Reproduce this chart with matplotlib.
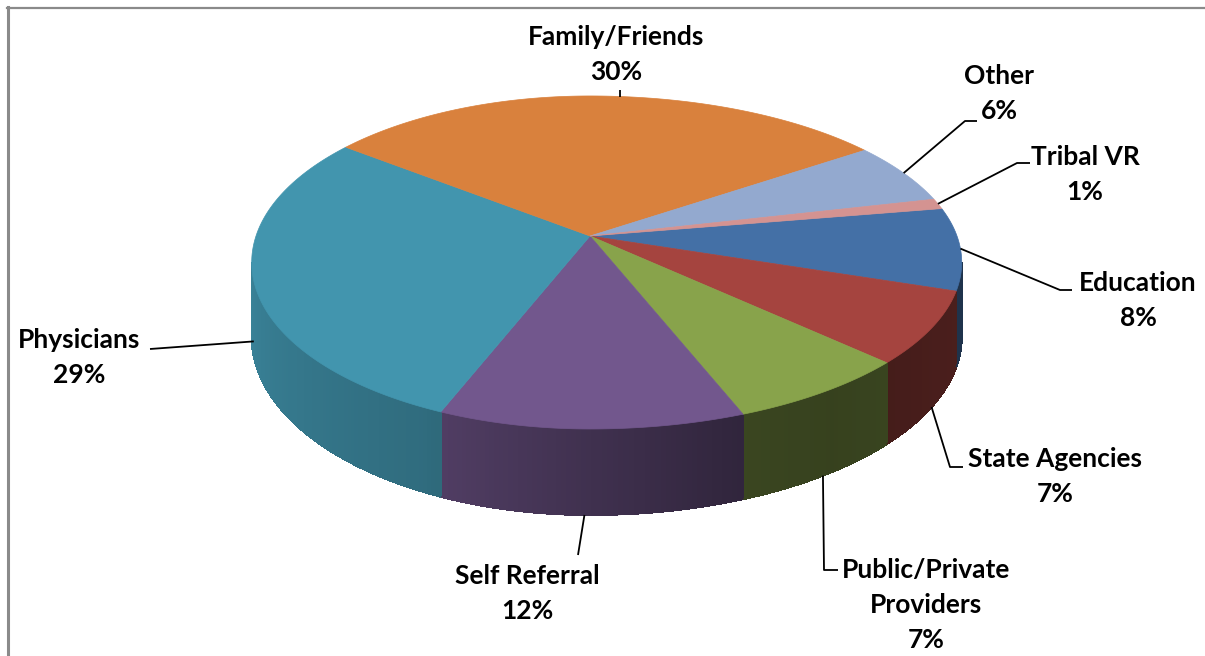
import numpy as np
import matplotlib
matplotlib.use("Agg")
import matplotlib.pyplot as plt
from matplotlib.patches import Polygon
from matplotlib.collections import LineCollection
from matplotlib.colors import to_rgb

# data (percent of referrals), in drawing order, clockwise
sources = ["Education", "State Agencies", "Public/Private Providers", "Self Referral",
           "Physicians", "Family/Friends", "Other", "Tribal VR"]
percents = [8, 7, 7, 12, 29, 30, 6, 1]
top_colors = ["#4470A6", "#A5443F", "#88A34B", "#72578D",
              "#4295AE", "#D9813D", "#93A9CF", "#D49391"]
label_lines = [["Education"], ["State Agencies"], ["Public/Private", "Providers"],
               ["Self Referral"], ["Physicians"], ["Family/Friends"], ["Other"], ["Tribal VR"]]
title = "Referral Sources"

# 3d pie geometry (pixels)
X0, Y0 = 590, 236
AR, AL = 367, 334
B, U, H = 162.3, 0.159, 72.3
START = 10.0


def project(theta, depth=0.0):
    t = np.radians(theta)
    X, Z = np.cos(t), np.sin(t)
    w = 1 + U * Z
    A = np.where(X >= 0, AR, AL)
    return X0 + A * X / w, Y0 - B * Z / w + depth * H / w


def wall_shade(theta):
    return np.interp(theta, [-171, -116, -70, -55, -30, -9],
                     [0.88, 0.73, 0.43, 0.40, 0.44, 0.46])


fig = plt.figure(figsize=(12.05, 6.56), dpi=100)
ax = fig.add_axes([0, 0, 1, 1])
ax.set_xlim(0, 1205)
ax.set_ylim(656, 0)
ax.axis("off")

bounds = START - np.concatenate([[0], np.cumsum(percents)]) / sum(percents) * 360.0

# side walls (front part only)
for i in range(len(percents)):
    a0, a1 = bounds[i + 1], bounds[i]
    lo, hi = max(a0, -171.0), min(a1, -9.0)
    if lo >= hi:
        continue
    base = np.array(to_rgb(top_colors[i]))
    n = max(2, int((hi - lo) / 0.7) + 1)
    ts = np.linspace(lo, hi, n)
    segs, cols = [], []
    for k in range(n - 1):
        ta, tb = ts[k], ts[k + 1]
        xa, ya = project(ta)
        xb, yb = project(tb)
        xa2, ya2 = project(ta, 1)
        xb2, yb2 = project(tb, 1)
        c = np.clip(base * wall_shade((ta + tb) / 2), 0, 1)
        ax.add_patch(Polygon([(xa, ya), (xb, yb), (xb2, yb2), (xa2, ya2)],
                             closed=True, facecolor=c, edgecolor=c, lw=0.8,
                             antialiased=False, zorder=2))
        segs.append([(xa2, ya2), (xb2, yb2)])
        cols.append(c)
    # smooth lower rim
    ax.add_collection(LineCollection(segs, colors=cols, lw=1.0, zorder=2.5))

# top faces
for i in range(len(percents)):
    ts = np.linspace(bounds[i], bounds[i + 1], max(3, int(abs(bounds[i] - bounds[i + 1]) * 2)))
    xs, ys = project(ts)
    pts = [(X0, Y0)] + list(zip(xs, ys))
    ax.add_patch(Polygon(pts, closed=True, facecolor=top_colors[i],
                         edgecolor=top_colors[i], lw=0.5, zorder=3))

# labels and leader lines
font = dict(family=["Lato", "DejaVu Sans"], fontweight="bold", fontsize=19, color="black")
label_pos = [(1138, 283), (1055, 459), (926, 570), (527, 576),
             (79, 340), (616, 37), (999, 76), (1085, 157)]
anchor_depth = [0, 1, 1, 1, 0.8, 0, 0, 0]
anchor_shift = [0, 0, 0, 0, 0, -7, 0, 0]
elbows = [[(1060, 290), (1072, 290)],
          [(950, 467), (963, 467)],
          [(824, 570), (838, 570)],
          [(578, 555)],
          [(150, 349)],
          [(620, 90)],
          [(965, 121), (977, 121)],
          [(1017, 163), (1030, 163)]]
pitch = 35
for i, name in enumerate(sources):
    lx, ly = label_pos[i]
    rows = label_lines[i] + [f"{percents[i]:.0f}%"]
    for r, row in enumerate(rows):
        ax.text(lx, ly + r * pitch, row, ha="center", va="center", zorder=6, **font)
    mid = (bounds[i] + bounds[i + 1]) / 2 + anchor_shift[i]
    axp, ayp = project(mid, anchor_depth[i])
    if i == 5:
        axp = elbows[i][0][0]
    path = [(float(axp), float(ayp))] + elbows[i]
    ax.plot([p[0] for p in path], [p[1] for p in path], color="black", lw=1.3,
            zorder=5, solid_capstyle="butt")

# title (cut off at top, as in the source image) and chart frame
ax.text(620, 0.5, title, ha="center", va="baseline", zorder=1,
        family=["Lato", "DejaVu Sans"], fontweight="bold", fontsize=22, color="#333333")
ax.plot([7, 1205], [7.5, 7.5], color="#8a8a8a", lw=1.6, zorder=7)
ax.plot([7.5, 7.5], [7, 656], color="#8a8a8a", lw=2.2, zorder=7)

fig.savefig("out.png", dpi=100, facecolor="white")
